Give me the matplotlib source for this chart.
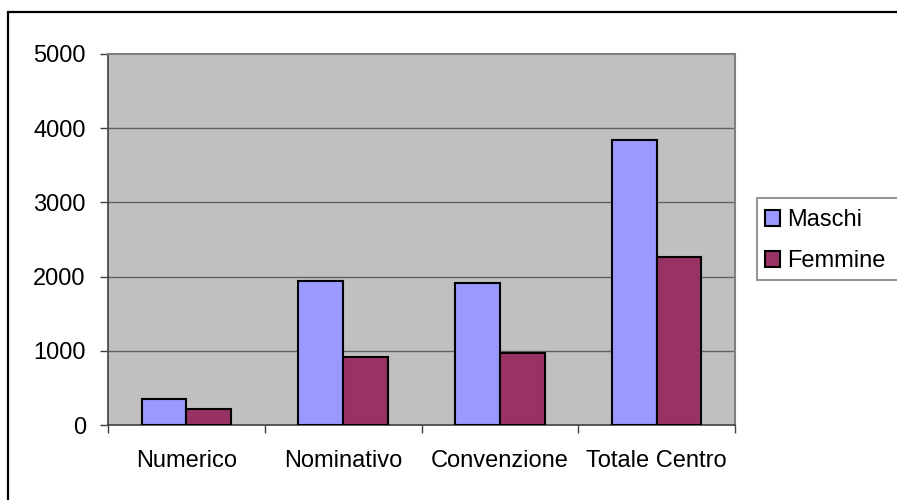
import matplotlib
matplotlib.use("Agg")
import matplotlib.pyplot as plt
from matplotlib.patches import Rectangle, Patch
import numpy as np

categories = ["Numerico", "Nominativo", "Convenzione", "Totale Centro"]
maschi = [354, 1935, 1920, 3845]
femmine = [220, 910, 965, 2262]
series_names = ["Maschi", "Femmine"]
yticks = [0, 1000, 2000, 3000, 4000, 5000]

plt.rcParams['font.family'] = ['Liberation Sans', 'DejaVu Sans']
FS = 17

W, H = 897, 500
fig = plt.figure(figsize=(W / 100, H / 100), dpi=100)
fig.patch.set_facecolor("white")

# outer frame
fig.patches.append(Rectangle((8 / W, -0.1), 1.2, 1.1 - 12 / H, transform=fig.transFigure,
                             fill=False, edgecolor="black", linewidth=1.6, zorder=0))

ax = fig.add_axes([108 / W, (H - 425) / H, (735 - 108) / W, (425 - 54) / H])
ax.set_facecolor("#C0C0C0")

n = len(categories)
w = 1 / 3.5
centers = np.arange(n) + 0.5
ax.bar(centers - w / 2, maschi, width=w, color="#9999FF", edgecolor="black", linewidth=1.5,
       label=series_names[0], zorder=3)
ax.bar(centers + w / 2, femmine, width=w, color="#993366", edgecolor="black", linewidth=1.5,
       label=series_names[1], zorder=3)

ax.set_xlim(0, n)
ax.set_ylim(0, 5000)
ax.set_yticks(yticks)
ax.set_yticklabels([str(v) for v in yticks], fontsize=FS)
for y in yticks[1:-1]:
    ax.axhline(y, color="#606060", linewidth=1.0, zorder=1)

ax.set_xticks(np.arange(n + 1))
ax.set_xticklabels([""] * (n + 1))
ax.set_xticks(centers, minor=True)
ax.set_xticklabels(categories, minor=True, fontsize=FS)
ax.tick_params(axis="x", which="minor", length=0, pad=18)
ax.tick_params(axis="x", which="major", direction="out", length=6, width=1, color="#404040")
ax.tick_params(axis="y", direction="out", length=6, width=1, color="#404040", pad=10)

for s in ["left", "bottom"]:
    ax.spines[s].set_color("#404040")
    ax.spines[s].set_linewidth(1.2)
for s in ["top", "right"]:
    ax.spines[s].set_color("#808080")
    ax.spines[s].set_linewidth(1.5)

# legend box (extends past the right edge as in the reference)
fig.patches.append(Rectangle((756.5 / W, 1 - 280 / H), 0.2, (280 - 198) / H,
                             transform=fig.transFigure, facecolor="white",
                             edgecolor="#808080", linewidth=1.2, zorder=1))
handles = [Patch(facecolor="#9999FF", edgecolor="black", linewidth=1.5),
           Patch(facecolor="#993366", edgecolor="black", linewidth=1.5)]
leg = fig.legend(handles, series_names, loc="upper left",
                 bbox_to_anchor=(758 / W, 1 - 202 / H), fontsize=FS,
                 frameon=False, borderpad=0.3, handlelength=0.65,
                 handleheight=0.65, handletextpad=0.3, labelspacing=0.8,
                 borderaxespad=0)
leg.set_zorder(2)

fig.savefig("out.png", dpi=100)
